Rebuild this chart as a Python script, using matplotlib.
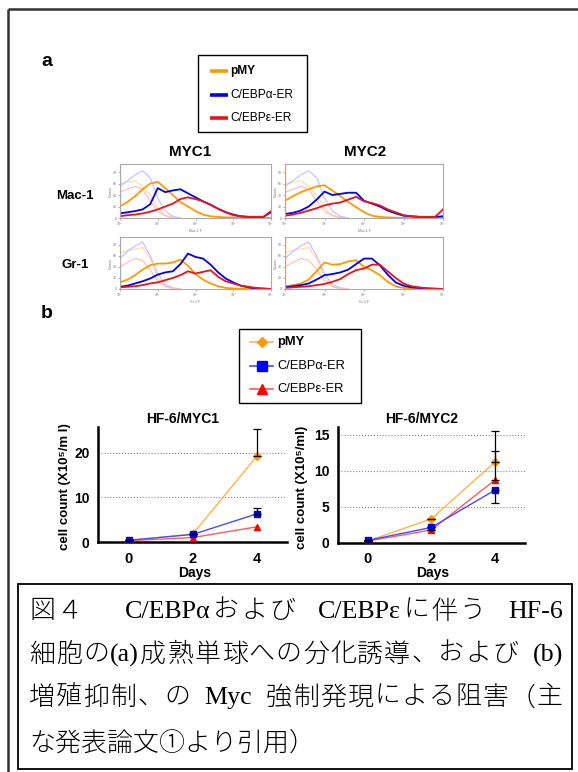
import re

import matplotlib
matplotlib.use("Agg")
import matplotlib.pyplot as plt
import matplotlib.patches as mpatches

plt.rcParams["font.family"] = ["Liberation Sans", "DejaVu Sans"]

W, H = 578, 772

# ---- panel a: flow cytometry histograms (x = log10 decade, y = counts) ----
hist_grid = [0.0, 0.2, 0.4, 0.6, 0.8, 1.0, 1.2, 1.4, 1.6, 1.8, 2.0,
             2.2, 2.4, 2.6, 2.8, 3.0, 3.2, 3.4, 3.6, 3.8, 4.0]
series_names = ["pMY", "C/EBPα-ER", "C/EBPε-ER"]
col_titles = ["MYC1", "MYC2"]
row_titles = ["Mac-1", "Gr-1"]
marker_axis = ["Mac-1 F", "Gr-1 F"]

mac_myc1_pmy = [20, 28, 38, 50, 60, 63, 52, 40, 28, 20, 12, 6, 3, 2, 1, 1, 0.5, 0.5, 0, 0, 0]
mac_myc1_alpha = [8, 10, 12, 15, 24, 52, 45, 48, 50, 43, 36, 29, 23, 16, 10, 6, 3, 2, 2, 2, 10]
mac_myc1_eps = [3, 5, 6, 8, 11, 15, 20, 25, 33, 36, 33, 29, 23, 16, 10, 5, 3, 2, 2, 2, 12]

mac_myc2_pmy = [30, 38, 45, 50, 55, 57, 48, 38, 28, 19, 10, 4, 2, 1, 0.5, 0, 0, 0, 0, 0, 0]
mac_myc2_alpha = [7, 9, 13, 20, 32, 46, 40, 42, 44, 44, 30, 25, 20, 13, 8, 4, 3, 2, 2, 2, 3]
mac_myc2_eps = [4, 6, 9, 13, 17, 22, 25, 27, 32, 37, 29, 26, 22, 15, 10, 5, 3, 2, 2, 2, 15]

gr_myc1_pmy = [12, 17, 25, 35, 43, 46, 46, 48, 53, 42, 27, 17, 10, 5, 2, 1, 0.5, 0, 0, 0, 0]
gr_myc1_alpha = [4, 6, 10, 14, 19, 26, 30, 32, 45, 64, 58, 55, 44, 30, 19, 12, 6, 3, 1, 0.5, 0]
gr_myc1_eps = [3, 4, 5, 7, 10, 12, 16, 20, 25, 32, 28, 31, 34, 22, 14, 10, 6, 4, 2, 1, 0]

gr_myc2_pmy = [5, 7, 10, 17, 32, 48, 44, 45, 50, 52, 40, 34, 25, 13, 5, 2, 1, 0.5, 0, 0, 0]
gr_myc2_alpha = [3, 5, 7, 10, 17, 25, 27, 30, 35, 45, 55, 55, 43, 26, 12, 6, 3, 2, 1, 0.5, 0]
gr_myc2_eps = [2, 3, 4, 5, 7, 9, 13, 18, 27, 34, 37, 44, 44, 32, 20, 10, 5, 3, 1, 0.5, 0]

# first-channel pMY count is off scale in every panel
pmy_first_channel = 94

# unstained / isotype controls (faint traces)
faint_grid = [0.0, 0.2, 0.4, 0.6, 0.8, 1.0, 1.2, 1.4, 1.6]
mac_faint_pmy = [60, 62, 65, 55, 40, 18, 5, 1, 0]
mac_faint_alpha = [55, 65, 75, 82, 70, 35, 12, 3, 0]
mac_faint_eps = [45, 50, 55, 50, 30, 12, 4, 1, 0]
gr_faint_pmy = [65, 70, 72, 75, 55, 20, 5, 1, 0]
gr_faint_alpha = [55, 68, 78, 85, 60, 28, 8, 2, 0]
gr_faint_eps = [40, 48, 55, 52, 35, 14, 4, 1, 0]

# ---- panel b: growth curves ----
days = [0, 2, 4]
myc1_pmy = [0.3, 1.8, 19.2]
myc1_alpha = [0.4, 1.7, 6.3]
myc1_eps = [0.3, 1.0, 3.4]
myc1_err_lo = {"pMY": [0, 0, 0], "C/EBPα-ER": [0, 0, 0], "C/EBPε-ER": [0, 0, 0]}
myc1_err_hi = {"pMY": [0, 0, 6.2], "C/EBPα-ER": [0, 0, 1.4], "C/EBPε-ER": [0, 0, 0]}

myc2_pmy = [0.2, 3.3, 11.2]
myc2_alpha = [0.3, 2.1, 7.3]
myc2_eps = [0.2, 1.75, 8.7]
myc2_err_lo = {"pMY": [0, 0, 0], "C/EBPα-ER": [0, 0, 1.8], "C/EBPε-ER": [0, 0, 0]}
myc2_err_hi = {"pMY": [0, 0, 4.3], "C/EBPα-ER": [0, 0, 0], "C/EBPε-ER": [0, 0, 4.1]}

caption_lines = [
    "図４　C/EBPαおよび C/EBPεに伴う HF-6",
    "細胞の(a)成熟単球への分化誘導、および (b)",
    "増殖抑制、の Myc 強制発現による阻害（主",
    "な発表論文①より引用）",
]

HIST_COLORS = ["#FF9900", "#0000EE", "#E8141C"]
FAINT_COLORS = ["#FFDDA8", "#C4C4FF", "#FFC0C0"]
LINE_COLORS = ["#FFB347", "#4A4AFF", "#FF5A5A"]
MARK_COLORS = ["#FF9900", "#0000FF", "#FF0000"]
MARKERS = ["D", "s", "^"]


def px_rect(l, t, r, b):
    return [l / W, 1 - b / H, (r - l) / W, (b - t) / H]


fig = plt.figure(figsize=(W / 100, H / 100), dpi=100, facecolor="white")
ax0 = fig.add_axes([0, 0, 1, 1], zorder=-1)
ax0.set_xlim(0, W)
ax0.set_ylim(H, 0)
ax0.axis("off")

# page frame + caption frame
ax0.plot([8, 8], [9, H], color="#333333", lw=1.8, solid_capstyle="butt")
ax0.plot([8, W], [9, 9], color="#333333", lw=1.8, solid_capstyle="butt")
ax0.add_patch(mpatches.Rectangle((18, 584), 554, 185, fill=False, ec="black", lw=1.3))

# ---------------- panel a ----------------
ax0.text(47, 66, "a", fontsize=14, fontweight="bold", ha="center", va="baseline")
ax0.add_patch(mpatches.Rectangle((198, 55), 109, 77, fill=False, ec="black", lw=1.0))
for i, name in enumerate(series_names):
    y = [71, 95, 118][i]
    ax0.plot([210, 228], [y, y], color=HIST_COLORS[i], lw=2.6, solid_capstyle="butt")
    ax0.text(230, y, name, fontsize=8.6, va="center", ha="left",
             fontweight="bold" if i == 0 else "normal")

for j, t in enumerate(col_titles):
    ax0.text([190, 365][j], 156, t, fontsize=11, fontweight="bold", ha="center", va="baseline")
for i, t in enumerate(row_titles):
    ax0.text(75, [199, 268][i], t, fontsize=9.5, fontweight="bold", ha="center", va="baseline")

hist_data = [
    [[mac_myc1_pmy, mac_myc1_alpha, mac_myc1_eps], [mac_myc2_pmy, mac_myc2_alpha, mac_myc2_eps]],
    [[gr_myc1_pmy, gr_myc1_alpha, gr_myc1_eps], [gr_myc2_pmy, gr_myc2_alpha, gr_myc2_eps]],
]
faint_data = [
    [mac_faint_pmy, mac_faint_alpha, mac_faint_eps],
    [gr_faint_pmy, gr_faint_alpha, gr_faint_eps],
]
hist_rects = [
    [(120, 164, 271, 218), (285, 164, 443, 218)],
    [(120, 237, 271, 289), (285, 237, 443, 289)],
]

for r in range(2):
    for c in range(2):
        ax = fig.add_axes(px_rect(*hist_rects[r][c]))
        for yv, col in zip(faint_data[r], FAINT_COLORS):
            ax.plot(faint_grid, yv, color=col, lw=0.9)
        ax.vlines(0, 0, pmy_first_channel, color=HIST_COLORS[0], lw=1.6)
        for yv, col in zip(hist_data[r][c], HIST_COLORS):
            ax.plot(hist_grid, yv, color=col, lw=1.3)
        ax.set_xlim(0, 4)
        ax.set_ylim(0, 94)
        ax.set_xticks(range(5))
        ax.set_xticklabels([f"10$^{k}$" for k in range(5)])
        ax.set_yticks([0, 20, 40, 60, 80])
        ax.tick_params(labelsize=2.5, length=1.5, width=0.4, pad=0.6, colors="#777777")
        ax.set_xlabel(marker_axis[r], fontsize=2.5, labelpad=0.5, color="#777777")
        ax.set_ylabel("Counts", fontsize=2.5, labelpad=0.5, color="#777777")
        for s in ax.spines.values():
            s.set_color("#AAAAAA")
            s.set_linewidth(0.8)

# ---------------- panel b ----------------
ax0.text(47, 318, "b", fontsize=14, fontweight="bold", ha="center", va="baseline")
ax0.add_patch(mpatches.Rectangle((239, 329), 122, 74, fill=False, ec="black", lw=1.0))
for i, name in enumerate(series_names):
    y = [342, 366, 389][i]
    ax0.plot([250, 273], [y, y], color=LINE_COLORS[i], lw=1.2)
    ax0.plot([261.5], [y], marker=MARKERS[i], color=MARK_COLORS[i],
             ms=6.5 if i else 5.5, mec=MARK_COLORS[i])
    ax0.text(277, y, name, fontsize=9.3, va="center", ha="left",
             fontweight="bold" if i == 0 else "normal")

growth = [
    dict(rect=(98, 427, 287, 542), xlim=(-0.97, 4.95), ylim=(0, 25.8), yticks=[0, 10, 20],
         vals=[myc1_pmy, myc1_alpha, myc1_eps], lo=myc1_err_lo, hi=myc1_err_hi,
         title="HF-6/MYC1", tx=183, ylab="cell count (X10⁵/m l)", ylx=65, dx=195),
    dict(rect=(338, 427, 525, 542.5), xlim=(-0.94, 4.95), ylim=(0, 16.1), yticks=[0, 5, 10, 15],
         vals=[myc2_pmy, myc2_alpha, myc2_eps], lo=myc2_err_lo, hi=myc2_err_hi,
         title="HF-6/MYC2", tx=422, ylab="cell count (X10⁵/ml)", ylx=302, dx=433),
]

for g in growth:
    ax = fig.add_axes(px_rect(*g["rect"]), facecolor="none")
    for k in [0, 2, 1]:
        ax.plot(days, g["vals"][k], color=LINE_COLORS[k], lw=1.0, marker=MARKERS[k],
                ms=4.5 if k else 4.0, mfc=MARK_COLORS[k], mec=MARK_COLORS[k], zorder=3)
    for k, name in enumerate(series_names):
        if any(g["lo"][name]) or any(g["hi"][name]):
            ax.errorbar(days, g["vals"][k], yerr=[g["lo"][name], g["hi"][name]], fmt="none",
                        ecolor="black", elinewidth=0.9, capsize=3, capthick=0.9, zorder=4)
    ax.set_xlim(*g["xlim"])
    ax.set_ylim(*g["ylim"])
    ax.set_xticks(days)
    ax.set_yticks(g["yticks"])
    ax.yaxis.grid(True, ls=":", color="#888888", lw=0.8)
    ax.set_axisbelow(True)
    for s in ["top", "right"]:
        ax.spines[s].set_visible(False)
    for s in ["left", "bottom"]:
        ax.spines[s].set_linewidth(1.8)
        ax.spines[s].set_color("black")
    ax.tick_params(axis="y", length=0, pad=6, labelsize=10)
    ax.tick_params(axis="x", length=0, pad=7, labelsize=10.5)
    for lab in ax.get_xticklabels() + ax.get_yticklabels():
        lab.set_fontweight("bold")
    ax0.text(g["tx"], 423, g["title"], fontsize=10, fontweight="bold", ha="center", va="baseline")
    ax0.text(g["dx"], 577, "Days", fontsize=10, fontweight="bold", ha="center", va="baseline")
    ax0.text(g["ylx"], 487, g["ylab"], fontsize=9.5, fontweight="bold", rotation=90,
             ha="center", va="center")

# ---------------- caption (justified like the source document) ----------------
cap_kw = dict(fontsize=18.7, family=["Liberation Serif", "Noto Sans CJK JP"],
              fontweight="light", color="black")
em = cap_kw["fontsize"] * 100 / 72
renderer = fig.canvas.get_renderer()


def tok_width(tok):
    if tok == " ":
        return 0.25 * em
    if tok == "\u3000":
        return em
    t = ax0.text(0, 0, tok, **cap_kw)
    w = t.get_window_extent(renderer).width
    t.remove()
    return w


cap_x0, cap_x1 = 29, 563
cap_y = [612, 655, 698, 743]
for n, line in enumerate(caption_lines):
    if n == len(caption_lines) - 1:
        ax0.text(cap_x0, cap_y[n], line, ha="left", va="center", **cap_kw)
        continue
    toks = re.findall(r"[A-Za-z0-9/()\-αε]+|\s|.", line)
    widths = [tok_width(t) for t in toks]
    # spare room goes mostly into the blanks, a little between glyphs
    weights = [6 if t.isspace() else 1 for t in toks[:-1]] + [0]
    extra = (cap_x1 - cap_x0 - sum(widths)) / sum(weights)
    x = cap_x0
    for tok, w, wt in zip(toks, widths, weights):
        if not tok.isspace():
            ax0.text(x, cap_y[n], tok, ha="left", va="center", **cap_kw)
        x += w + extra * wt

fig.savefig("out.png", dpi=100, facecolor="white")
